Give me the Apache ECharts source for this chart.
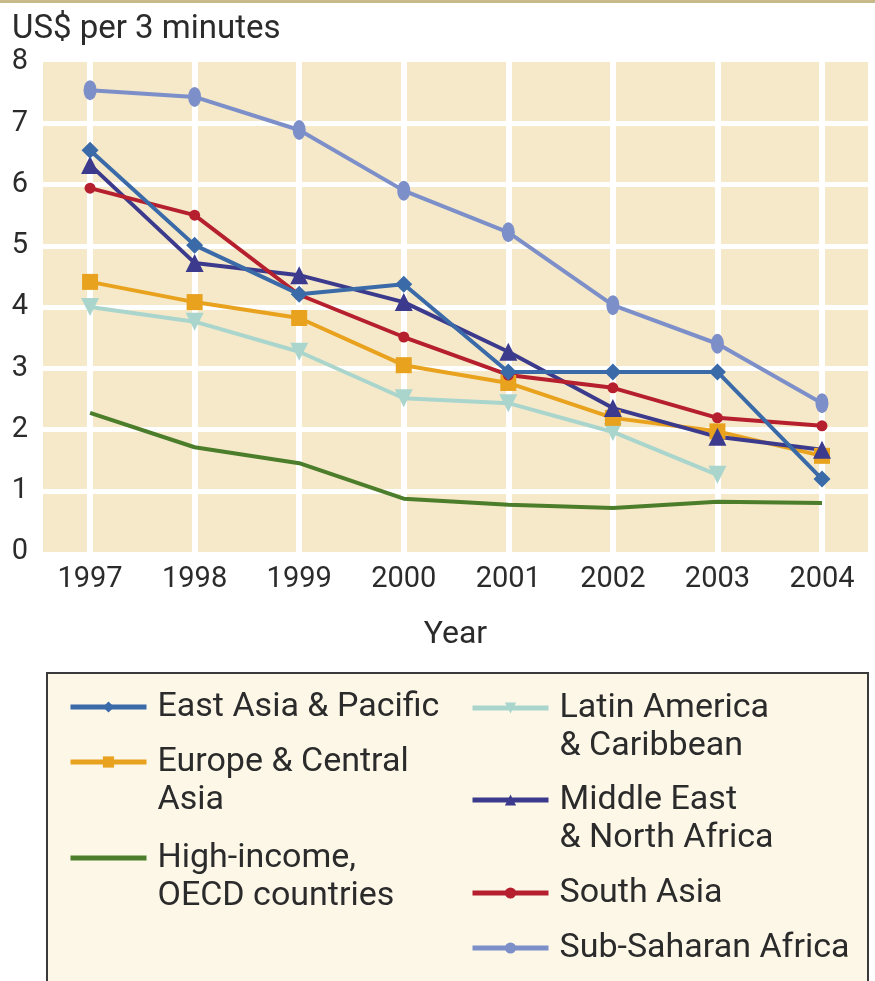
<!DOCTYPE html>
<html>
<head>
<meta charset="utf-8">
<script src="https://cdn.jsdelivr.net/npm/echarts@6/dist/echarts.min.js"></script>
<style>html,body{margin:0;padding:0;background:#fff}#c{width:875px;height:981px}</style>
</head>
<body>
<div id="c"></div>
<script>
// ---- data ----
const years = [1997, 1998, 1999, 2000, 2001, 2002, 2003, 2004];
const yTickLabels = [0, 1, 2, 3, 4, 5, 6, 7, 8];
const yGridValues = [1, 2, 3, 4, 5, 6, 7];
const eastAsia     = [6.56, 5.01, 4.21, 4.37, 2.94, 2.94, 2.94, 1.19];
const europe       = [4.41, 4.08, 3.82, 3.05, 2.76, 2.19, 1.97, 1.57];
const highIncome   = [2.27, 1.71, 1.45, 0.87, 0.77, 0.72, 0.82, 0.80];
const latinAmerica = [4.00, 3.76, 3.27, 2.51, 2.43, 1.96, 1.26, null];
const middleEast   = [6.32, 4.72, 4.52, 4.08, 3.27, 2.35, 1.88, 1.67];
const southAsia    = [5.94, 5.50, 4.20, 3.51, 2.89, 2.68, 2.19, 2.06];
const subSaharan   = [7.54, 7.43, 6.89, 5.90, 5.22, 4.03, 3.40, 2.43];

const NAMES = {
  eap: 'East Asia & Pacific',
  eca: 'Europe & Central Asia',
  hi: 'High-income, OECD countries',
  lac: 'Latin America & Caribbean',
  mena: 'Middle East & North Africa',
  sa: 'South Asia',
  ssa: 'Sub-Saharan Africa'
};
const LEGEND_LINES = {
  eap: ['East Asia & Pacific'],
  eca: ['Europe & Central', 'Asia'],
  hi: ['High-income,', 'OECD countries'],
  lac: ['Latin America', '& Caribbean'],
  mena: ['Middle East', '& North Africa'],
  sa: ['South Asia'],
  ssa: ['Sub-Saharan Africa']
};

const FONT = 'Roboto, "Liberation Sans", sans-serif';
const TXT = '#2b2b2b';

function pairs(arr) { return years.map((y, i) => [y, arr[i]]); }

function line(key, arr, color, symbol, size, extra) {
  return Object.assign({
    name: NAMES[key],
    type: 'line',
    data: pairs(arr),
    symbol: symbol,
    symbolSize: size,
    showSymbol: symbol !== 'none',
    connectNulls: false,
    lineStyle: { color: color, width: 4 },
    itemStyle: { color: color, borderWidth: 0 },
    emphasis: { disabled: true },
    animation: false
  }, extra || {});
}

const LH = 38;
function legendItem(key, left, firstLineY, extraData) {
  const lines = LEGEND_LINES[key];
  // blank leading lines keep the icon aligned with the first text line
  const blanks = lines.length - 1;
  const text = new Array(blanks).fill('').concat(lines).join('\n');
  const total = blanks + lines.length;
  return {
    data: [Object.assign({ name: NAMES[key] }, extraData || {})],
    left: left,
    top: firstLineY - (total * LH) / 2,
    orient: 'vertical',
    padding: 0,
    itemWidth: 76,
    itemHeight: 14,
    selectedMode: false,
    formatter: () => text,
    lineStyle: { width: 5 },
    textStyle: {
      fontFamily: FONT, fontSize: 34, color: TXT, lineHeight: LH,
      padding: [0, 0, 0, 6]
    }
  };
}

const chart = echarts.init(document.getElementById('c'), null, { renderer: 'canvas' });
chart.setOption({
  backgroundColor: '#ffffff',
  animation: false,
  title: {
    text: 'US$ per 3 minutes',
    left: 12, top: 13, padding: 0,
    textStyle: { fontFamily: FONT, fontSize: 33, fontWeight: 'normal', color: TXT }
  },
  graphic: [
    { type: 'rect', shape: { x: 0, y: 0, width: 875, height: 3 }, style: { fill: '#c9ba8c' }, silent: true },
    { type: 'rect', shape: { x: 47, y: 673, width: 821, height: 330 },
      style: { fill: '#fdf7e8', stroke: '#3a3a3a', lineWidth: 2 }, silent: true, z: -1 }
  ],
  grid: {
    left: 43, right: 7, top: 62, bottom: 429,
    show: true, backgroundColor: '#f5e9ca', borderWidth: 0,
    outerBoundsMode: 'none'
  },
  xAxis: {
    type: 'value',
    min: 1996.55, max: 2004.44,
    name: 'Year', nameLocation: 'middle', nameGap: 67, nameMoveOverlap: false,
    nameTextStyle: { fontFamily: FONT, fontSize: 32, color: TXT },
    axisLine: { show: false },
    axisTick: { show: false, customValues: years },
    axisLabel: { customValues: years, formatter: v => String(v), margin: 13,
      fontFamily: FONT, fontSize: 29, color: TXT },
    splitLine: { show: true, lineStyle: { color: '#ffffff', width: 6 } }
  },
  yAxis: {
    type: 'value',
    min: 0, max: 8,
    axisLine: { show: false },
    axisTick: { show: false, customValues: yGridValues },
    axisLabel: { customValues: yTickLabels, margin: 15,
      fontFamily: FONT, fontSize: 29, color: TXT },
    splitLine: { show: true, lineStyle: { color: '#ffffff', width: 5 } }
  },
  legend: [
    legendItem('eap', 68, 707),
    legendItem('eca', 68, 762),
    legendItem('hi', 68, 858, { itemStyle: { opacity: 0 } }),
    legendItem('lac', 470, 708),
    legendItem('mena', 470, 800),
    legendItem('sa', 470, 893),
    legendItem('ssa', 470, 948)
  ],
  series: [
    line('hi', highIncome, '#4b7d2a', 'none', 0),
    line('lac', latinAmerica, '#a9d5cd', 'triangle', 18, { symbolRotate: 180 }),
    line('eca', europe, '#e8a21e', 'rect', 16),
    line('mena', middleEast, '#3c3a8c', 'triangle', 18),
    line('sa', southAsia, '#b51f2e', 'circle', 11),
    line('eap', eastAsia, '#3a6aa8', 'diamond', 17),
    line('ssa', subSaharan, '#7d8fc9', 'circle', [13, 20])
  ]
});
</script>
</body>
</html>
